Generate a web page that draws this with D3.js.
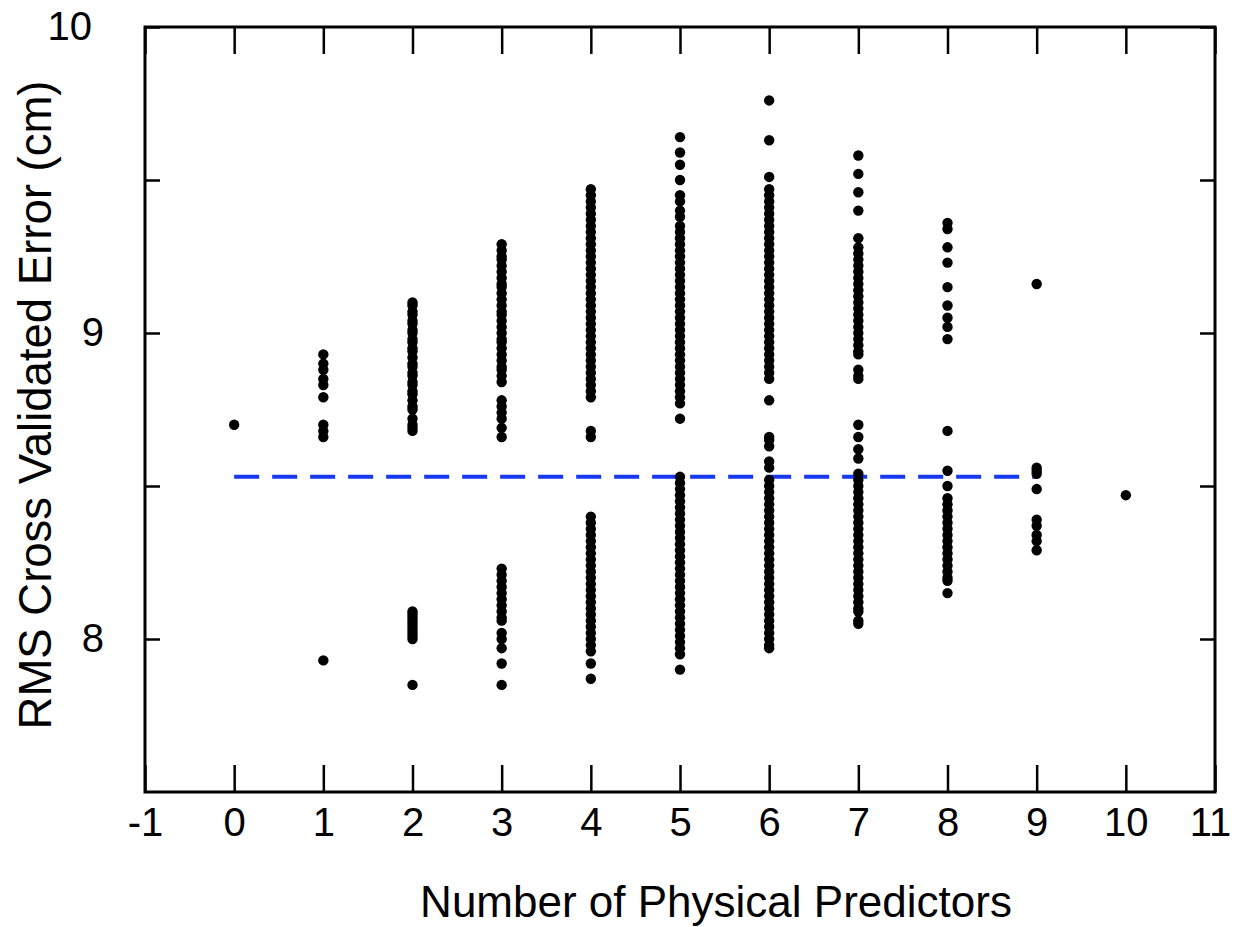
<!DOCTYPE html>
<html>
<head>
<meta charset="utf-8">
<script src="https://cdn.jsdelivr.net/npm/d3@7"></script>
<style>
  body { margin: 0; background: #fff; }
</style>
</head>
<body>
<div class="chart"></div>
<script>
// error values (cm), one list per number of predictors
const p0 = [8.70];
const p1 = [8.93, 8.90, 8.88, 8.85, 8.83, 8.79, 8.70, 8.68, 8.66, 7.93];
const p2 = [9.10, 9.09, 9.07, 9.06, 9.04, 9.03, 9.01, 9.00, 8.98, 8.97, 8.95,
  8.94, 8.92, 8.90, 8.89, 8.87, 8.86, 8.84, 8.83, 8.81, 8.80, 8.78, 8.76, 8.75,
  8.72, 8.70, 8.69, 8.68,
  8.09, 8.08, 8.07, 8.06, 8.05, 8.04, 8.03, 8.02, 8.01, 8.00, 7.85];
const p3 = [9.29, 9.27, 9.25, 9.24, 9.22, 9.20, 9.18, 9.16, 9.15, 9.13, 9.11,
  9.09, 9.07, 9.06, 9.04, 9.02, 9.00, 8.98, 8.97, 8.95, 8.93, 8.91, 8.89, 8.88,
  8.86, 8.84, 8.78, 8.76, 8.74, 8.72, 8.69, 8.66,
  8.23, 8.21, 8.19, 8.17, 8.15, 8.13, 8.11, 8.09, 8.07, 8.06, 8.02, 8.00, 7.97,
  7.92, 7.85];
const p4 = [9.47, 9.45, 9.43, 9.41, 9.39, 9.37, 9.35, 9.33, 9.31, 9.29, 9.27,
  9.25, 9.23, 9.21, 9.19, 9.17, 9.15, 9.13, 9.11, 9.09, 9.07, 9.05, 9.03, 9.01,
  8.99, 8.97, 8.95, 8.93, 8.91, 8.89, 8.87, 8.85, 8.83, 8.81, 8.79, 8.68, 8.66,
  8.40, 8.38, 8.36, 8.34, 8.32, 8.30, 8.28, 8.26, 8.24, 8.22, 8.20, 8.18, 8.16,
  8.14, 8.12, 8.10, 8.08, 8.06, 8.04, 8.02, 8.00, 7.98, 7.96, 7.92, 7.87];
const p5 = [9.64, 9.59, 9.55, 9.50, 9.45, 9.43, 9.40, 9.38, 9.35, 9.33, 9.31,
  9.29, 9.27, 9.25, 9.23, 9.21, 9.19, 9.17, 9.15, 9.13, 9.11, 9.09, 9.07, 9.05,
  9.03, 9.01, 8.99, 8.97, 8.95, 8.93, 8.91, 8.89, 8.87, 8.85, 8.83, 8.81, 8.79,
  8.77, 8.72,
  8.53, 8.51, 8.49, 8.47, 8.45, 8.43, 8.41, 8.39, 8.37, 8.35, 8.33, 8.31, 8.29,
  8.27, 8.25, 8.23, 8.21, 8.19, 8.17, 8.15, 8.13, 8.11, 8.09, 8.07, 8.05, 8.03,
  8.01, 7.99, 7.97, 7.95, 7.90];
const p6 = [9.76, 9.63, 9.51, 9.47, 9.45, 9.43, 9.41, 9.39, 9.37, 9.35, 9.33,
  9.31, 9.29, 9.27, 9.25, 9.23, 9.21, 9.19, 9.17, 9.15, 9.13, 9.11, 9.09, 9.07,
  9.05, 9.03, 9.01, 8.99, 8.97, 8.95, 8.93, 8.91, 8.89, 8.87, 8.85, 8.78,
  8.66, 8.65, 8.63, 8.58, 8.56, 8.52, 8.50, 8.48, 8.46, 8.44, 8.42, 8.40, 8.38,
  8.36, 8.34, 8.32, 8.30, 8.28, 8.26, 8.24, 8.22, 8.20, 8.18, 8.16, 8.14, 8.12,
  8.10, 8.08, 8.06, 8.04, 8.02, 8.00, 7.98, 7.97];
const p7 = [9.58, 9.52, 9.46, 9.40, 9.31, 9.28, 9.26, 9.24, 9.22, 9.20, 9.18,
  9.16, 9.14, 9.12, 9.10, 9.08, 9.06, 9.04, 9.02, 9.00, 8.98, 8.96, 8.94, 8.93,
  8.88, 8.86, 8.85, 8.70, 8.66, 8.62, 8.59,
  8.54, 8.52, 8.50, 8.48, 8.46, 8.44, 8.42, 8.40, 8.38, 8.36, 8.34, 8.32, 8.30,
  8.28, 8.26, 8.24, 8.22, 8.20, 8.18, 8.16, 8.14, 8.12, 8.10, 8.09, 8.06, 8.05];
const p8 = [9.36, 9.34, 9.28, 9.23, 9.15, 9.09, 9.05, 9.02, 8.98, 8.68, 8.55,
  8.50, 8.46, 8.44, 8.42, 8.40, 8.38, 8.36, 8.34, 8.32, 8.30, 8.28, 8.26, 8.24,
  8.22, 8.20, 8.19, 8.15];
const p9 = [9.16, 8.56, 8.55, 8.54, 8.49, 8.39, 8.37, 8.34, 8.32, 8.29];
const p10 = [8.47];

const columns = [p0, p1, p2, p3, p4, p5, p6, p7, p8, p9, p10];

const refValue = 8.53;      // dashed reference line
const refFrom = 0;
const refTo = 9;

const xTicks = [-1, 0, 1, 2, 3, 4, 5, 6, 7, 8, 9, 10, 11];
const yTicks = [8, 8.5, 9, 9.5, 10];
const yLabels = [8, 9, 10];

const xTitle = "Number of Physical Predictors";
const yTitle = "RMS Cross Validated Error (cm)";

const W = 1234, H = 927;
const margin = { top: 27, right: 19, bottom: 135, left: 145 };
const width = W - margin.left - margin.right;
const height = H - margin.top - margin.bottom;
const font = "'Liberation Sans', Arial, sans-serif";

const points = columns.flatMap((vals, n) => vals.map((v) => ({ n: n, err: v })));

const svg = d3
  .select(".chart")
  .append("svg")
  .attr("width", W)
  .attr("height", H)
  .append("g")
  .attr("transform", `translate(${margin.left},${margin.top})`);

const x = d3.scaleLinear().domain([-1, 11]).range([0, width]);
const y = d3.scaleLinear().domain([7.5, 10]).range([height, 0]);

// Axes, ticks pointing inward on all four sides
function styleAxis(g) {
  g.select(".domain").remove();
  g.selectAll(".tick line").attr("stroke", "#000").attr("stroke-width", 2.5);
  g.selectAll(".tick text")
    .attr("fill", "#000")
    .attr("font-family", font)
    .attr("font-size", "40px");
}

svg
  .append("g")
  .attr("transform", `translate(0,${height})`)
  .call(
    d3.axisBottom(x).tickValues(xTicks).tickSize(-27).tickPadding(16)
      .tickFormat((d) => String(d))
  )
  .call(styleAxis)
  .selectAll(".tick text")
  .attr("dx", (d) => (d === 11 ? -5 : 0));

svg
  .append("g")
  .call(d3.axisTop(x).tickValues(xTicks).tickSize(-27).tickFormat(""))
  .call(styleAxis);

svg
  .append("g")
  .call(
    d3.axisLeft(y).tickValues(yTicks).tickSize(-15).tickPadding(41)
      .tickFormat((d) => (yLabels.includes(d) ? String(d) : ""))
  )
  .call(styleAxis)
  .selectAll(".tick text")
  .attr("dx", (d) => (d === 10 ? -12 : 0));

svg
  .append("g")
  .attr("transform", `translate(${width},0)`)
  .call(d3.axisRight(y).tickValues(yTicks).tickSize(-15).tickFormat(""))
  .call(styleAxis);

// frame
svg
  .append("rect")
  .attr("width", width)
  .attr("height", height)
  .attr("fill", "none")
  .attr("stroke", "#000")
  .attr("stroke-width", 3);

// reference line
svg
  .append("line")
  .attr("x1", x(refFrom))
  .attr("x2", x(refTo))
  .attr("y1", y(refValue))
  .attr("y2", y(refValue))
  .attr("stroke", "#1538f0")
  .attr("stroke-width", 4)
  .attr("stroke-dasharray", "25 13");

// points
svg
  .selectAll("circle.pt")
  .data(points)
  .enter()
  .append("circle")
  .attr("class", "pt")
  .attr("cx", (d) => x(d.n))
  .attr("cy", (d) => y(d.err))
  .attr("r", 5.2)
  .attr("fill", "#000");

// axis titles
svg
  .append("text")
  .attr("x", 716 - margin.left)
  .attr("y", 917 - margin.top)
  .attr("text-anchor", "middle")
  .attr("font-family", font)
  .attr("font-size", "44px")
  .text(xTitle);

svg
  .append("text")
  .attr("transform", "rotate(-90)")
  .attr("x", -(405 - margin.top))
  .attr("y", 51 - margin.left)
  .attr("text-anchor", "middle")
  .attr("font-family", font)
  .attr("font-size", "45.5px")
  .text(yTitle);
</script>
</body>
</html>
